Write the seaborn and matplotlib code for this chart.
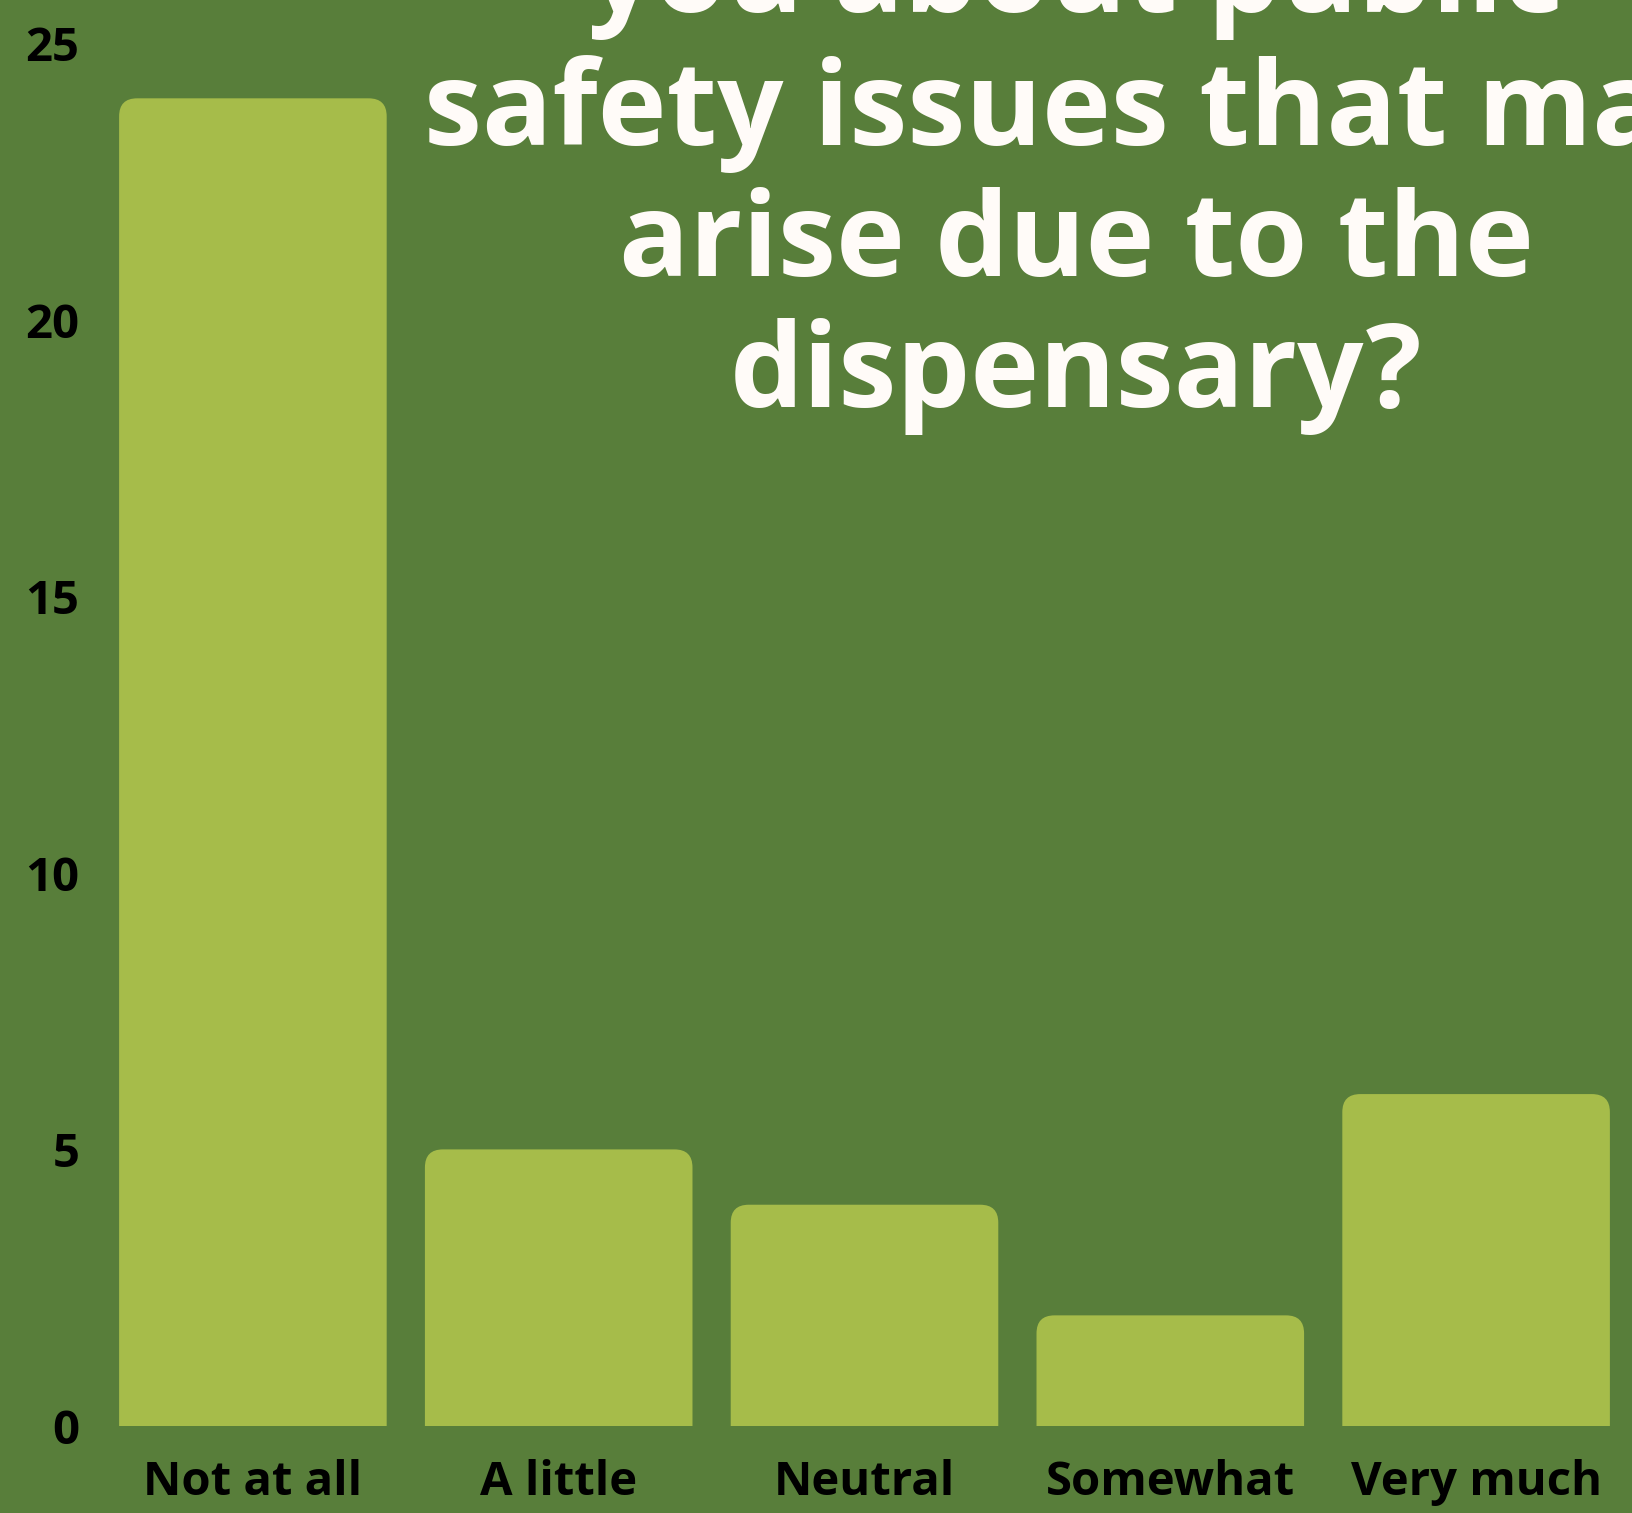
import pandas as pd
import matplotlib.pyplot as plt
import seaborn as sns
from matplotlib.patches import FancyBboxPatch

categories = ['Not at all', 'A little', 'Neutral', 'Somewhat', 'Very much']
counts = [24, 5, 4, 2, 6]
y_ticks = [0, 5, 10, 15, 20, 25]
title_lines = ['you about public', 'safety issues that may', 'arise due to the', 'dispensary?']

bg = '#587e3a'
bar_col = '#a6bc4a'

sns.set_theme(style='white')
plt.rcParams['font.family'] = ['Open Sans', 'DejaVu Sans']

df = pd.DataFrame({'Answer': categories, 'Count': counts})

fig = plt.figure(figsize=(16.32, 15.13), dpi=100)
fig.set_facecolor(bg)
ax = fig.add_axes([100 / 1632, 87 / 1513, 1529 / 1632, 1383 / 1513])
ax.set_facecolor(bg)

sns.barplot(data=df, x='Answer', y='Count', color=bar_col, width=0.875,
            saturation=1, ax=ax)
ax.set_xlim(-0.5, 4.5)
ax.set_ylim(0, 25)

# swap the plain bars for ones with rounded tops (bottom corners hidden below 0)
px_x = 1529 / 5.0
px_y = 1383 / 25.0
r = 18 / px_x
aspect = px_x / px_y
for p in list(ax.patches):
    x0, w, h = p.get_x(), p.get_width(), p.get_height()
    p.set_visible(False)
    ry = r * aspect
    ax.add_patch(FancyBboxPatch((x0, -ry), w, h + ry,
                                boxstyle=f'round,pad=0,rounding_size={r}',
                                mutation_aspect=aspect, facecolor=bar_col,
                                edgecolor='none', zorder=2))

ax.set_yticks(y_ticks)
ax.set_yticklabels([str(t) for t in y_ticks])
ax.tick_params(axis='y', length=0, pad=15, labelsize=34, labelcolor='black')
ax.tick_params(axis='x', length=0, pad=24, labelsize=34, labelcolor='black')
for lab in ax.get_xticklabels() + ax.get_yticklabels():
    lab.set_fontweight('bold')
ax.set_xlabel('')
ax.set_ylabel('')
sns.despine(ax=ax, left=True, bottom=True)

# title is larger than the canvas, its first line is cut at the top like the original
fig.text(1076 / 1632, 1 - 407 / 1513, '\n'.join(title_lines), ha='center', va='baseline',
         fontsize=84, fontweight='bold', color='#fffbf8', linespacing=1.16,
         multialignment='center')

plt.savefig('out.png', dpi=100, facecolor=bg)
